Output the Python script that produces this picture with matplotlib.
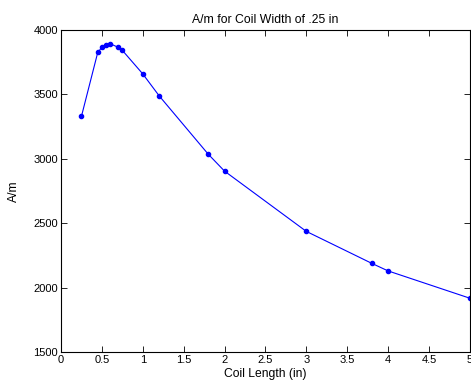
import matplotlib
matplotlib.use("Agg")
import matplotlib.pyplot as plt

# dados
comprimento = [0.25, 0.45, 0.5, 0.55, 0.6, 0.7, 0.75, 1.0, 1.2, 1.8, 2.0, 3.0, 3.8, 4.0, 5.0]
am = [3330, 3828, 3865, 3888, 3895, 3866, 3843, 3660, 3490, 3037, 2905, 2437, 2189, 2130, 1918]
xticks = [0, 0.5, 1, 1.5, 2, 2.5, 3, 3.5, 4, 4.5, 5]
xtick_labels = ["0", "0.5", "1", "1.5", "2", "2.5", "3", "3.5", "4", "4.5", "5"]
yticks = [1500, 2000, 2500, 3000, 3500, 4000]

plt.rcParams['font.family'] = ['Liberation Sans', 'DejaVu Sans']

fig = plt.figure(figsize=(4.71, 3.86), dpi=100)
ax = fig.add_axes([0.1295, 0.088, 0.868, 0.834])

ax.plot(comprimento, am, color="#0000ff", linewidth=0.8, marker="o", markersize=3.0)

ax.set_xlim(0, 5)
ax.set_ylim(1500, 4000)
ax.set_xticks(xticks)
ax.set_xticklabels(xtick_labels)
ax.set_yticks(yticks)
ax.tick_params(direction="in", top=True, right=True, labelsize=8, length=4, width=0.6, pad=2)
for s in ax.spines.values():
    s.set_linewidth(0.8)

ax.set_title("A/m for Coil Width of .25 in", fontsize=8.8, pad=5)
ax.set_xlabel("Coil Length (in)", fontsize=8.7, labelpad=2)
ax.set_ylabel("A/m", fontsize=8.7, labelpad=10)

fig.savefig("out.png", dpi=100)
